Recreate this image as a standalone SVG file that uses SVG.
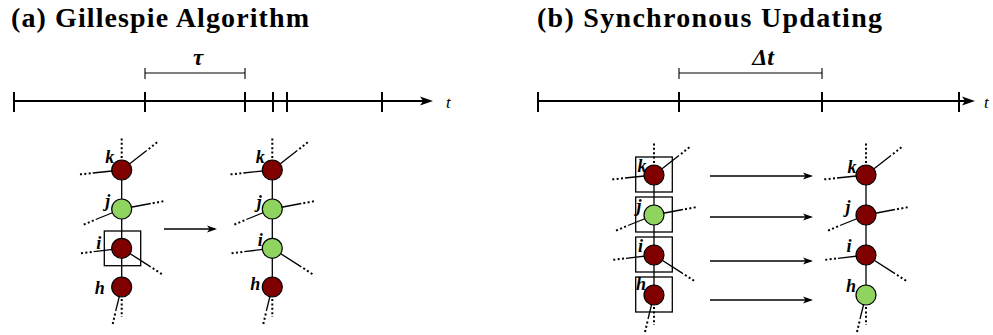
<svg xmlns="http://www.w3.org/2000/svg" xmlns:xlink="http://www.w3.org/1999/xlink" width="993" height="335" viewBox="0 0 993 335">
<style>
.title{font-family:"Liberation Serif","DejaVu Serif",serif;font-weight:bold;font-size:28px;fill:#000}
.lbl{font-family:"Liberation Serif","DejaVu Serif",serif;font-weight:bold;font-style:italic;font-size:18px;text-anchor:middle;fill:#000}
.tl{font-family:"Liberation Serif","DejaVu Serif",serif;font-style:italic;font-size:17px;fill:#000}
.big{font-family:"Liberation Serif","DejaVu Serif",serif;font-weight:bold;font-style:italic;text-anchor:middle;fill:#000}
.axis{stroke:#000;stroke-width:2;fill:none}
.thin{stroke:#000;stroke-width:1.1;fill:none}
.edge{stroke:#000;stroke-width:1.3;fill:none}
.dot{stroke:#000;stroke-width:2;stroke-dasharray:2 2.4;fill:none}
.red{fill:#800000;stroke:#000;stroke-width:1.2}
.grn{fill:#8fd45f;stroke:#000;stroke-width:1.2}
.box{fill:none;stroke:#000;stroke-width:1.3}
.arr{stroke:#000;stroke-width:1.3;fill:none}
</style>
<defs>
<marker id="bighead" markerUnits="userSpaceOnUse" markerWidth="16" markerHeight="12" viewBox="-14 -6 16 12" refX="-5" refY="0" orient="auto">
<path d="M0,0 L-13,-4.5 L-10,0 L-13,4.5 Z" fill="#000"/>
</marker>
<marker id="head" markerUnits="userSpaceOnUse" markerWidth="14" markerHeight="10" viewBox="-12 -5 14 10" refX="-2" refY="0" orient="auto">
<path d="M0,0 L-10,-3.5 L-7.5,0 L-10,3.5 Z" fill="#000"/>
</marker>
<g id="e-k">
<path class="edge" d="M0 0 L25 -19.5 M0 0 L-29 3"/>
<path class="dot" d="M27 -21 L37 -29 M-31 3.2 L-43 4.5 M0 -12 L0 -32"/>
</g>
<g id="e-j">
<path class="edge" d="M0 0 L29 -5.5 M0 0 L-26 10.5"/>
<path class="dot" d="M31 -5.8 L43 -8 M-28 11.4 L-39 16"/>
</g>
<g id="e-i">
<path class="edge" d="M0 0 L-28 3.3 M0 0 L29 18.6"/>
<path class="dot" d="M-30 3.6 L-42 5 M31 19.9 L42 27"/>
</g>
<g id="e-h">
<path class="edge" d="M0 0 L-6 24"/>
<path class="dot" d="M-6.5 26.5 L-9 37 M0 12 L0 30"/>
</g>
</defs>

<!-- Panel titles -->
<text class="title" x="11" y="27" textLength="298">(a) Gillespie Algorithm</text>
<text class="title" x="537" y="27" textLength="345">(b) Synchronous Updating</text>

<!-- Timeline (a) -->
<g id="timeline-a">
<line class="axis" x1="14" y1="101" x2="428" y2="101" marker-end="url(#bighead)"/>
<path class="axis" d="M14 92 V112 M145 92 V112 M245 92 V112 M273 92 V112 M287 92 V112 M382 92 V112"/>
<path class="thin" d="M145 73 H245 M145 68 V79 M245 68 V79"/>
<text class="big" x="198" y="65" font-size="23">τ</text>
<text class="tl" x="446" y="108">t</text>
</g>

<!-- Timeline (b) -->
<g id="timeline-b">
<line class="axis" x1="538" y1="101" x2="970" y2="101" marker-end="url(#bighead)"/>
<path class="axis" d="M538 92 V112 M679 92 V112 M822 92 V112 M959 92 V112"/>
<path class="thin" d="M679 73 H822 M679 68 V79 M822 68 V79"/>
<text class="big" x="763" y="65" font-size="24">Δt</text>
<text class="tl" x="984" y="108">t</text>
</g>

<!-- Connectors -->
<g id="connectors">
<path class="edge" d="M121.7 170 V287 M272.3 170 V287 M654 175 V295 M866 175 V295"/>
<line class="arr" x1="164" y1="229" x2="215" y2="229" marker-end="url(#head)"/>
<line class="arr" x1="710" y1="176" x2="811" y2="176" marker-end="url(#head)"/>
<line class="arr" x1="710" y1="217" x2="811" y2="217" marker-end="url(#head)"/>
<line class="arr" x1="710" y1="261" x2="811" y2="261" marker-end="url(#head)"/>
<line class="arr" x1="710" y1="300" x2="811" y2="300" marker-end="url(#head)"/>
</g>

<!-- (a) before -->
<g id="a0-k" transform="translate(121.7,170)"><use xlink:href="#e-k" href="#e-k"/><circle class="red" r="10"/><text class="lbl" x="-12" y="-7">k</text></g>
<g id="a0-j" transform="translate(121.7,209)"><use xlink:href="#e-j" href="#e-j"/><circle class="grn" r="10"/><text class="lbl" x="-14" y="-2">j</text></g>
<g id="a0-i" transform="translate(121.7,248.3)"><use xlink:href="#e-i" href="#e-i"/><circle class="red" r="10"/><text class="lbl" x="-23" y="1">i</text><rect class="box" x="-17.4" y="-17.3" width="36.4" height="34.7"/></g>
<g id="a0-h" transform="translate(121.7,287)"><use xlink:href="#e-h" href="#e-h"/><circle class="red" r="10"/><text class="lbl" x="-22" y="7">h</text></g>

<!-- (a) after -->
<g id="a1-k" transform="translate(272.3,170)"><use xlink:href="#e-k" href="#e-k"/><circle class="red" r="10"/><text class="lbl" x="-12" y="-7">k</text></g>
<g id="a1-j" transform="translate(272.3,209)"><use xlink:href="#e-j" href="#e-j"/><circle class="grn" r="10"/><text class="lbl" x="-13" y="-1">j</text></g>
<g id="a1-i" transform="translate(272.3,248.3)"><use xlink:href="#e-i" href="#e-i"/><circle class="grn" r="10"/><text class="lbl" x="-12" y="-2">i</text></g>
<g id="a1-h" transform="translate(272.3,287)"><use xlink:href="#e-h" href="#e-h"/><circle class="red" r="10"/><text class="lbl" x="-17" y="3">h</text></g>

<!-- (b) before -->
<g id="b0-k" transform="translate(654,175)"><use xlink:href="#e-k" href="#e-k"/><circle class="red" r="10"/><text class="lbl" x="-12" y="-3">k</text><rect class="box" x="-18.3" y="-18" width="36.6" height="35"/></g>
<g id="b0-j" transform="translate(654,215)"><use xlink:href="#e-j" href="#e-j"/><circle class="grn" r="10"/><text class="lbl" x="-15" y="-3">j</text><rect class="box" x="-18.3" y="-18" width="36.6" height="35"/></g>
<g id="b0-i" transform="translate(654,255)"><use xlink:href="#e-i" href="#e-i"/><circle class="red" r="10"/><text class="lbl" x="-13.5" y="-3">i</text><rect class="box" x="-18.3" y="-18" width="36.6" height="35"/></g>
<g id="b0-h" transform="translate(654,295)"><use xlink:href="#e-h" href="#e-h"/><circle class="red" r="10"/><text class="lbl" x="-13" y="-5">h</text><rect class="box" x="-18.3" y="-18" width="36.6" height="35"/></g>

<!-- (b) after -->
<g id="b1-k" transform="translate(866,175)"><use xlink:href="#e-k" href="#e-k"/><circle class="red" r="10"/><text class="lbl" x="-14" y="-2">k</text></g>
<g id="b1-j" transform="translate(866,215)"><use xlink:href="#e-j" href="#e-j"/><circle class="red" r="10"/><text class="lbl" x="-18" y="-2">j</text></g>
<g id="b1-i" transform="translate(866,255)"><use xlink:href="#e-i" href="#e-i"/><circle class="red" r="10"/><text class="lbl" x="-17" y="-3">i</text></g>
<g id="b1-h" transform="translate(866,295)"><use xlink:href="#e-h" href="#e-h"/><circle class="grn" r="10"/><text class="lbl" x="-15" y="-3">h</text></g>
</svg>
